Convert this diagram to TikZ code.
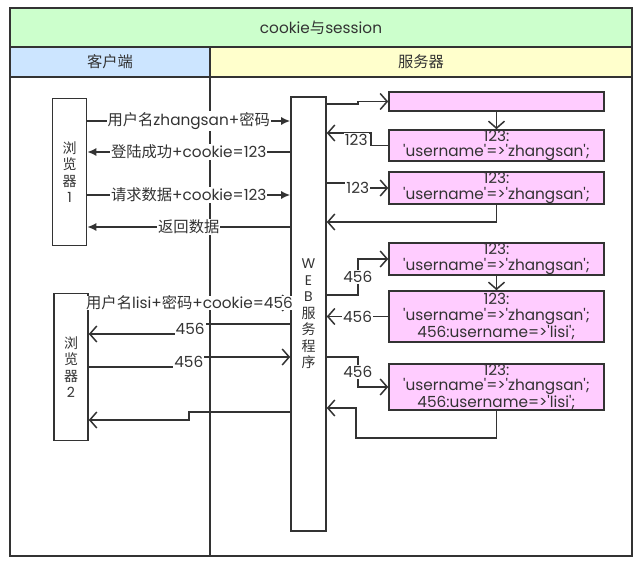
\documentclass[tikz,border=0pt]{standalone}
\usepackage{fontspec}
\setmainfont{Poppins}
\newfontfamily\cjk{Noto Sans CJK SC}
\usepackage{tikz}
\usetikzlibrary{arrows.meta}
\usetikzlibrary{positioning}
\definecolor{ink}{HTML}{333333}
\definecolor{titlegreen}{HTML}{CCFFCC}
\definecolor{clientblue}{HTML}{CCE5FF}
\definecolor{serveryellow}{HTML}{FFFFCC}
\definecolor{sessionpink}{HTML}{FFCCFF}
\newcommand{\txt}{\fontsize{15.3}{15.5}\selectfont}
\newcommand{\vtxt}{\fontsize{14}{16.5}\selectfont}
\newcommand{\q}{\textquotesingle}

\begin{document}
\begin{tikzpicture}
      [
      x=1pt,y=-1pt,
      band/.style={draw=ink,line width=1.6pt,inner sep=0pt,text=ink,font=\txt},
      lane/.style={draw=ink,line width=1.6pt,inner sep=0pt},
      browser/.style={draw=ink,line width=1.6pt,fill=white,inner sep=0pt,minimum width=34pt,minimum height=147pt,align=center,text=ink,font=\vtxt},
      server/.style={draw=ink,line width=1.6pt,fill=white,inner sep=0pt,minimum width=35pt,minimum height=434pt,align=center,text=ink,font=\vtxt},
      session/.style={draw=ink,line width=1.6pt,fill=sessionpink,inner sep=0pt,minimum width=215pt,align=center,text=ink,font=\txt},
      lbl/.style={fill=white,inner sep=1pt,text=ink,font=\txt},
      solidarrow/.style={draw=ink,line width=1.5pt,-{Latex[length=9pt,width=8pt]}},
      openarrow/.style={draw=ink,line width=1.5pt,-{Straight Barb[length=7pt,width=16pt]}}
      ]
      \useasboundingbox (0,0) rectangle (643,565);
      \node (title) at (321,27.5) [band,fill=titlegreen,minimum width=622pt,minimum height=39pt] {cookie{\cjk 与}session};
      \node (chead) at (110,62) [band,fill=clientblue,minimum width=200pt,minimum height=30pt] {\cjk 客户端};
      \node (shead) at (421,62) [band,fill=serveryellow,minimum width=422pt,minimum height=30pt] {\cjk 服务器};
      \node (clane) at (110,316.5) [lane,minimum width=200pt,minimum height=479pt] {};
      \node (slane) at (421,316.5) [lane,minimum width=422pt,minimum height=479pt] {};
      \node (br1) at (69.5,172) [browser] {{\cjk 浏}\\{\cjk 览}\\{\cjk 器}\\1};
      \node (br2) at (71,367) [browser] {{\cjk 浏}\\{\cjk 览}\\{\cjk 器}\\2};
      \node (web) at (308.5,314) [server] {W\\E\\B\\{\cjk 服}\\{\cjk 务}\\{\cjk 程}\\{\cjk 序}};
      \node (s0) at (496.5,101.5) [session,minimum height=19pt] {};
      \node (s1) at (496.5,145.5) [session,minimum height=31pt] {123:\\\q username\q=>\q zhangsan\q;};
      \node (s2) at (496.5,188) [session,minimum height=32pt] {123:\\\q username\q=>\q zhangsan\q;};
      \node (s3) at (496.5,259) [session,minimum height=32pt] {123:\\\q username\q=>\q zhangsan\q;};
      \node (s4) at (496.5,316.5) [session,minimum height=51pt] {123:\\\q username\q=>\q zhangsan\q;\\456:username=>\q lisi\q;};
      \node (s5) at (496.5,387) [session,minimum height=46pt] {123:\\\q username\q=>\q zhangsan\q;\\456:username=>\q lisi\q;};
      \draw [solidarrow] (br1.east |- 0,121) -- node[lbl] {{\cjk 用户名}zhangsan+{\cjk 密码}} (web.west |- 0,121);
      \draw [solidarrow] (web.west |- 0,152) -- node[lbl] {{\cjk 登陆成功}+cookie=123} (br1.east |- 0,152);
      \draw [solidarrow] (br1.east |- 0,195) -- node[lbl] {{\cjk 请求数据}+cookie=123} (web.west |- 0,195);
      \draw [solidarrow] (web.west |- 0,227) -- node[lbl] {\cjk 返回数据} (br1.east |- 0,227);
      \draw [openarrow] (br2.east |- 0,303) -- node[lbl,inner sep=0pt] {{\cjk 用户名}lisi+{\cjk 密码}+cookie=456} (web.west |- 0,303);
      \draw [openarrow] (web.west |- 0,324) -- ++(-100,0) |- node[lbl,pos=0.25] {456} (br2.east |- 0,334);
      \draw [openarrow] (br2.east |- 0,367) -- ++(100,0) |- node[lbl,pos=0.25] {456} (web.west |- 0,357);
      \draw [openarrow] (web.west |- 0,412) -- ++(-101,0) |- (br2.east |- 0,420);
      \draw [openarrow] (web.east |- 0,104) -- ++(31,0) |- (s0.west);
      \draw [openarrow] (s0.south) -- (s1.north);
      \draw [openarrow] (s1.west) -- ++(-17,0) |- node[lbl,pos=0.5,xshift=-15pt,yshift=-7pt] {123} (web.east |- 0,133);
      \draw [openarrow] (web.east |- 0,183) -- ++(31,0) |- node[lbl,pos=0.5] {123} (s2.west);
      \draw [openarrow] (s2.south) |- (web.east |- 0,222);
      \draw [openarrow] (web.east |- 0,295) -- ++(31,0) |- node[lbl,pos=0.25] {456} (s3.west);
      \draw [openarrow] (s3.south) -- (s4.north);
      \draw [openarrow] (s4.west) -- node[lbl] {456} (web.east |- s4.west);
      \draw [openarrow] (web.east |- 0,357) -- ++(31,0) |- node[lbl,pos=0.25] {456} (s5.west);
      \draw [openarrow] (s5.south) |- (356,438) |- (web.east |- 0,408);
    \end{tikzpicture}
\end{document}
